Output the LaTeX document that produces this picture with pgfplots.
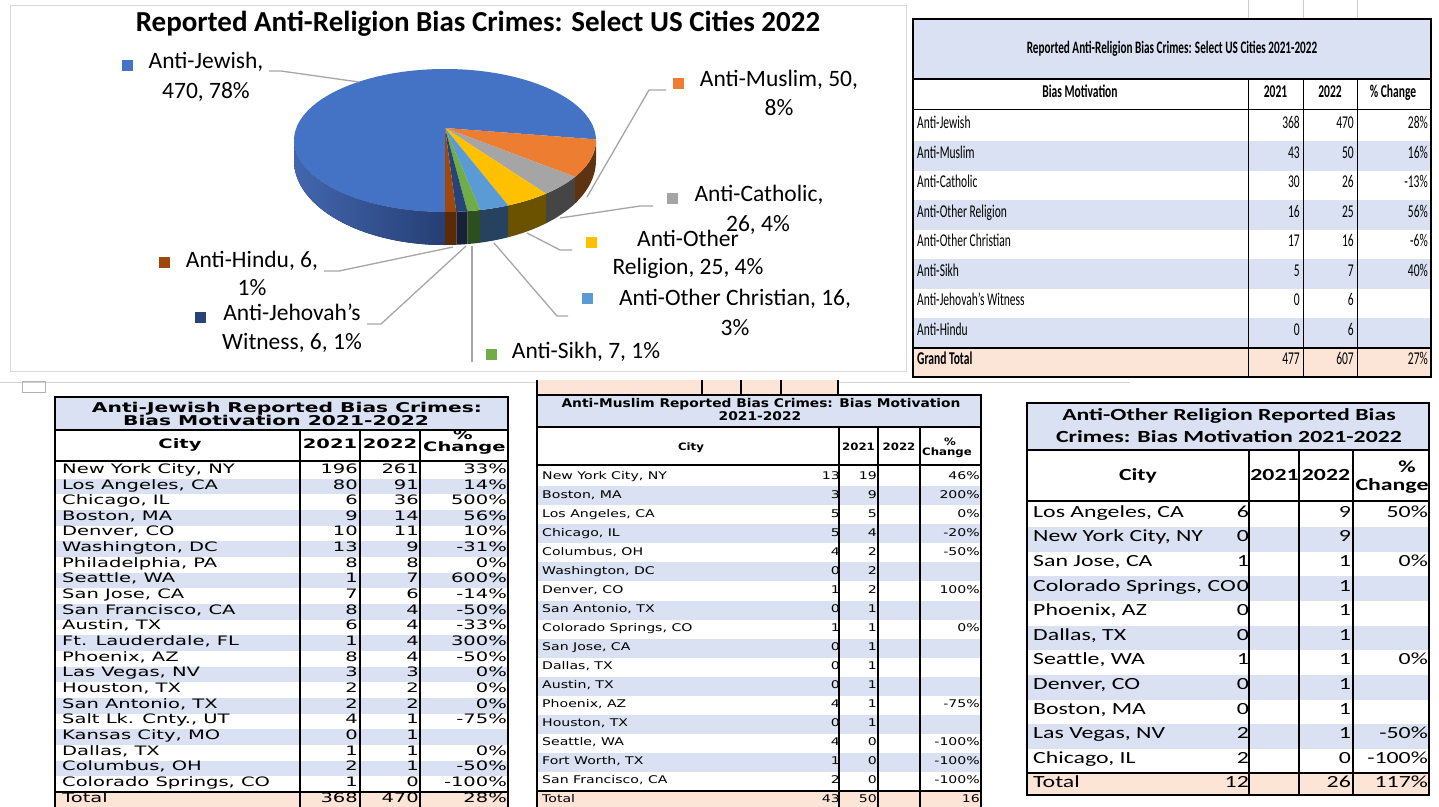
\documentclass[border=0pt]{standalone}
\usepackage{pgfplots}
\pgfplotsset{compat=1.18}
\usetikzlibrary{calc}
\usepackage{fontspec}
\setmainfont{Carlito}
\newfontfamily\calcond[FakeStretch=0.64]{Carlito}
\newfontfamily\calwide[FakeStretch=1.4]{Carlito}
\newfontfamily\dvwide[FakeStretch=1.5]{DejaVu Sans}
\newfontfamily\dvmid[FakeStretch=1.15]{DejaVu Sans}
\newfontfamily\dvmidr[FakeStretch=1.33]{DejaVu Sans}

\definecolor{jew}{HTML}{4472C4}
\definecolor{jewL}{HTML}{4266AE}
\definecolor{jewD}{HTML}{263F74}
\definecolor{mus}{HTML}{ED7D31}
\definecolor{musD}{HTML}{5E3311}
\definecolor{cat}{HTML}{A5A5A5}
\definecolor{catD}{HTML}{454545}
\definecolor{orl}{HTML}{FFC000}
\definecolor{orlD}{HTML}{6B5200}
\definecolor{och}{HTML}{5B9BD5}
\definecolor{ochD}{HTML}{27425E}
\definecolor{sik}{HTML}{70AD47}
\definecolor{sikD}{HTML}{2D4F20}
\definecolor{jeh}{HTML}{264478}
\definecolor{jehD}{HTML}{15223A}
\definecolor{hin}{HTML}{9E480E}
\definecolor{hinD}{HTML}{5B2A08}
\definecolor{lb}{HTML}{D9E1F2}
\definecolor{peach}{HTML}{FCE4D6}
\definecolor{ldr}{HTML}{A6A6A6}

% pie values (2022): Jewish 470, Muslim 50, Catholic 26, Other Religion 25,
% Other Christian 16, Sikh 7, Jehovah's Witness 6, Hindu 6 (sum 606)
\pgfmathsetmacro\aA{270}
\pgfmathsetmacro\aB{\aA-470/606*360}
\pgfmathsetmacro\aC{\aB-50/606*360}
\pgfmathsetmacro\aD{\aC-26/606*360}
\pgfmathsetmacro\aE{\aD-25/606*360}
\pgfmathsetmacro\aF{\aE-16/606*360}
\pgfmathsetmacro\aG{\aF-7/606*360}
\pgfmathsetmacro\aH{\aG-6/606*360}
\pgfmathsetmacro\aI{\aH-6/606*360}
% perspective view of the pie: true angle -> angle on the drawn ellipse
\newcommand\persp[2]{%
 \pgfmathsetmacro\tmpd{1+0.175*sin(#1)}%
 \pgfmathsetmacro\tmpx{148.7*cos(#1)/\tmpd/151}%
 \pgfmathsetmacro\tmpy{(69.3*sin(#1)/\tmpd+12.5)/71.5}%
 \pgfmathsetmacro#2{atan2(\tmpy,\tmpx)}}
\persp{\aB}{\pB}
\persp{\aC}{\pC}
\persp{\aD}{\pD}
\persp{\aE}{\pE}
\persp{\aF}{\pF}
\persp{\aG}{\pG}
\persp{\aH}{\pH}

\newcommand\topslice[3]{\fill[#1] (axis cs:445,128) -- ($(axis cs:445,140.5)+(#2:151pt and 71.5pt)$) arc[start angle=#2,end angle=#3,x radius=151pt,y radius=71.5pt] -- cycle;}
\newcommand\sideslice[3]{\fill[#1] ($(axis cs:445,140.5)+(#2:151pt and 71.5pt)$) arc[start angle=#2,end angle=#3,x radius=151pt,y radius=71.5pt] -- ($(axis cs:445,160.5)+(#3:151pt and 84.5pt)$) arc[start angle=#3,end angle=#2,x radius=151pt,y radius=84.5pt] -- cycle;}
\newcommand\pf{\fontsize{23.5}{28}\selectfont}
\newcommand\fTR{\fontsize{18}{20}\selectfont\calcond}
\newcommand\fBL{\fontsize{13}{15}\selectfont\dvwide}
\newcommand\fMD{\fontsize{10.6}{12}\selectfont\dvmidr}
\newcommand\fRT{\fontsize{17}{19}\selectfont\calwide}

\begin{document}
\begin{tikzpicture}
\begin{axis}[width=1439pt,height=806pt,scale only axis,xmin=0,xmax=1439,ymin=0,ymax=806,y dir=reverse,axis lines=none,clip=false,ticks=none]
\fill[white] (axis cs:0,0) rectangle (axis cs:1439,806);
\draw[gray!30,line width=1pt] (axis cs:10,5) rectangle (axis cs:906,371);
\node[font=\fontsize{29}{34}\selectfont\bfseries] at (axis cs:478,24) {Reported Anti-Religion Bias Crimes: Select US Cities 2022};
% side walls
\sideslice{left color=jewL,right color=jewD}{270}{180}
\sideslice{musD}{0}{\pC}
\sideslice{catD}{\pC}{\pD}
\sideslice{orlD}{\pD}{\pE}
\sideslice{ochD}{\pE}{\pF}
\sideslice{sikD}{\pF}{\pG}
\sideslice{jehD}{\pG}{\pH}
\sideslice{hinD}{\pH}{-90}
% top faces
\topslice{jew}{270}{\pB}
\topslice{mus}{\pB}{\pC}
\topslice{cat}{\pC}{\pD}
\topslice{orl}{\pD}{\pE}
\topslice{och}{\pE}{\pF}
\topslice{sik}{\pF}{\pG}
\topslice{jeh}{\pG}{\pH}
\topslice{hin}{\pH}{-90}
% leader lines
\draw[ldr,line width=1.3pt] (axis cs:269,71) -- (axis cs:281,71) -- (axis cs:359,82);
\draw[ldr,line width=1.3pt] (axis cs:666,90) -- (axis cs:649,90) -- (axis cs:587,197);
\draw[ldr,line width=1.3pt] (axis cs:653,206) -- (axis cs:640,206) -- (axis cs:560,218);
\draw[ldr,line width=1.3pt] (axis cs:572,250) -- (axis cs:560,250) -- (axis cs:527,233);
\draw[ldr,line width=1.3pt] (axis cs:568,316) -- (axis cs:557,316) -- (axis cs:494,243);
\draw[ldr,line width=1.3pt] (axis cs:472,362) -- (axis cs:472,246);
\draw[ldr,line width=1.3pt] (axis cs:367,324) -- (axis cs:381,324) -- (axis cs:466,246);
\draw[ldr,line width=1.3pt] (axis cs:324,271) -- (axis cs:339,271) -- (axis cs:453,247);
% legend keys
\fill[jew] (axis cs:122,60) rectangle (axis cs:133,71);
\fill[mus] (axis cs:673,78) rectangle (axis cs:684,89);
\fill[cat] (axis cs:667,193) rectangle (axis cs:678,204);
\fill[orl] (axis cs:586,237) rectangle (axis cs:597,248);
\fill[och] (axis cs:582,293) rectangle (axis cs:593,304);
\fill[sik] (axis cs:486,349) rectangle (axis cs:497,360);
\fill[jeh] (axis cs:195,312) rectangle (axis cs:206,323);
\fill[hin] (axis cs:159,257) rectangle (axis cs:170,268);
% labels
\node[font=\pf,anchor=mid] at (axis cs:206,66) {Anti-Jewish,};
\node[font=\pf,anchor=mid] at (axis cs:206,96) {470, 78\%};
\node[font=\pf,anchor=mid] at (axis cs:779,84) {Anti-Muslim, 50,};
\node[font=\pf,anchor=mid] at (axis cs:779,113) {8\%};
\node[font=\pf,anchor=mid] at (axis cs:759,199) {Anti-Catholic,};
\node[font=\pf,anchor=mid] at (axis cs:758,229) {26, 4\%};
\node[font=\pf,anchor=mid] at (axis cs:688,244) {Anti-Other};
\node[font=\pf,anchor=mid] at (axis cs:688,272) {Religion, 25, 4\%};
\node[font=\pf,anchor=mid] at (axis cs:735,303) {Anti-Other Christian, 16,};
\node[font=\pf,anchor=mid] at (axis cs:735,333) {3\%};
\node[font=\pf,anchor=mid] at (axis cs:586,356) {Anti-Sikh, 7, 1\%};
\node[font=\pf,anchor=mid] at (axis cs:292,318) {Anti-Jehovah’s};
\node[font=\pf,anchor=mid] at (axis cs:292,347) {Witness, 6, 1\%};
\node[font=\pf,anchor=mid] at (axis cs:252,265) {Anti-Hindu, 6,};
\node[font=\pf,anchor=mid] at (axis cs:252,293) {1\%};
\end{axis}

\begin{scope}[shift={(current axis.north west)},x=1pt,y=-1pt,every node/.style={inner sep=0pt}]
% ---------- top-right summary table ----------
\begin{scope}[font=\fTR]
\draw[gray!40,line width=0.8pt] (1248,0) -- (1248,19) (1303,0) -- (1303,19) (1357,0) -- (1357,19);
\fill[lb] (913,19) rectangle (1431,79);
\foreach \i in {1,3,5,7}{\fill[lb] (913,{111.75+29.5*\i}) rectangle (1431,{141.25+29.5*\i});}
\fill[peach] (913,347.75) rectangle (1431,377);
\draw[line width=1pt] (1248,79) -- (1248,377) (1303,79) -- (1303,377) (1357,79) -- (1357,377);
\draw[line width=2pt] (913,79) -- (1431,79);
\draw[line width=1pt] (913,110) -- (1431,110);
\draw[line width=2pt] (913,347.75) -- (1431,347.75);
\draw[line width=2.5pt] (913,19) rectangle (1431,377);
\node[font=\fontsize{17.5}{20}\selectfont\calcond\bfseries] at (1172,49) {Reported Anti-Religion Bias Crimes: Select US Cities 2021-2022};
\node[font=\fTR\bfseries,anchor=mid] at (1080,95) {Bias Motivation};
\node[font=\fTR\bfseries,anchor=mid] at (1275.5,95) {2021};
\node[font=\fTR\bfseries,anchor=mid] at (1330,95) {2022};
\node[font=\fTR\bfseries,anchor=mid] at (1393,95) {\% Change};
\foreach \n/\a/\b/\c [count=\i from 0] in {Anti-Jewish/368/470/28\%, Anti-Muslim/43/50/16\%, Anti-Catholic/30/26/-13\%, Anti-Other Religion/16/25/56\%, Anti-Other Christian/17/16/-6\%, Anti-Sikh/5/7/40\%, Anti-Jehovah’s Witness/0/6/, Anti-Hindu/0/6/}{
 \node[anchor=mid west] at (917,{126.5+29.5*\i}) {\n};
 \node[anchor=mid east] at (1300,{126.5+29.5*\i}) {\a};
 \node[anchor=mid east] at (1354,{126.5+29.5*\i}) {\b};
 \node[anchor=mid east] at (1428,{126.5+29.5*\i}) {\c};
}
\node[font=\fTR\bfseries,anchor=mid west] at (917,362.5) {Grand Total};
\node[anchor=mid east] at (1300,362.5) {477};
\node[anchor=mid east] at (1354,362.5) {607};
\node[anchor=mid east] at (1428,362.5) {27\%};
\end{scope}

% ---------- misc spreadsheet fragments ----------
\draw[gray!35,line width=1pt] (0,383) -- (1130,383);
\draw[gray!60,line width=0.8pt] (22,381) rectangle (45,392);
\fill[peach] (537,380) rectangle (838,395);
\draw[line width=1.5pt] (537,380) -- (537,395) (702,380) -- (702,395) (741,380) -- (741,395) (781,380) -- (781,395) (838,380) -- (838,395);

% ---------- Anti-Jewish city table ----------
\begin{scope}[font=\fBL]
\fill[lb] (55,397) rectangle (508,430);
\foreach \i in {1,3,...,19}{\fill[lb] (55,{471+15.65*\i-7.825}) rectangle (508,{471+15.65*\i+7.825});}
\fill[peach] (55,{471+15.65*21-7.825}) rectangle (508,810);
\draw[line width=2pt] (300,430) -- (300,810) (360,430) -- (360,810) (420,430) -- (420,810);
\draw[line width=2pt] (55,430) -- (508,430) (55,461) -- (508,461) (55,{471+15.65*21-7.825}) -- (508,{471+15.65*21-7.825});
\node[font=\fontsize{13.5}{15}\selectfont\dvwide\bfseries,anchor=mid] at (287,410) {Anti-Jewish Reported Bias Crimes:};
\node[font=\fontsize{13.5}{15}\selectfont\dvwide\bfseries,anchor=mid] at (276,423) {Bias Motivation 2021-2022};
\node[font=\fBL\bfseries,anchor=mid] at (180,446) {City};
\node[font=\fBL\bfseries,anchor=mid] at (330,446) {2021};
\node[font=\fBL\bfseries,anchor=mid] at (390,446) {2022};
\node[font=\fBL\bfseries,anchor=mid] at (463,437) {\%};
\node[font=\fBL\bfseries,anchor=mid west] at (423,449) {Change};
\begin{scope}
\clip (55,462) rectangle (299,810);
\foreach \n [count=\i from 0] in {{New York City, NY},{Los Angeles, CA},{Chicago, IL},{Boston, MA},{Denver, CO},{Washington, DC},{Philadelphia, PA},{Seattle, WA},{San Jose, CA},{San Francisco, CA},{Austin, TX},{Ft. Lauderdale, FL},{Phoenix, AZ},{Las Vegas, NV},{Houston, TX},{San Antonio, TX},{Salt Lk. Cnty., UT},{Kansas City, MO},{Dallas, TX},{Columbus, OH},{Colorado Springs, CO},{Total}}{
 \node[anchor=mid west] at (62,{471+15.65*\i}) {\n};}
\end{scope}
\foreach \a/\b/\c [count=\i from 0] in {196/261/33\%, 80/91/14\%, 6/36/500\%, 9/14/56\%, 10/11/10\%, 13/9/-31\%, 8/8/0\%, 1/7/600\%, 7/6/-14\%, 8/4/-50\%, 6/4/-33\%, 1/4/300\%, 8/4/-50\%, 3/3/0\%, 2/2/0\%, 2/2/0\%, 4/1/-75\%, 0/1/, 1/1/0\%, 2/1/-50\%, 1/0/-100\%, 368/470/28\%}{
 \node[anchor=mid east] at (358,{471+15.65*\i}) {\a};
 \node[anchor=mid east] at (419,{471+15.65*\i}) {\b};
 \node[anchor=mid east] at (507,{471+15.65*\i}) {\c};
}
\draw[line width=2.5pt] (55,810) -- (55,397) -- (508,397) -- (508,810);
\end{scope}

% ---------- Anti-Muslim city table ----------
\begin{scope}[font=\fMD]
\fill[lb] (537,395) rectangle (981,427);
\foreach \i in {1,3,...,15}{\fill[lb] (537,{477+19*\i-9.5}) rectangle (981,{477+19*\i+9.5});}
\fill[peach] (537,{477+19*17-9.5}) rectangle (981,810);
\draw[line width=2pt] (839,427) -- (839,810) (878,427) -- (878,810) (920,427) -- (920,810);
\draw[line width=2pt] (537,427) -- (981,427) (537,465) -- (981,465) (537,{477+19*17-9.5}) -- (981,{477+19*17-9.5});
\node[font=\fontsize{12}{14}\selectfont\dvmid\bfseries,anchor=mid] at (761,405) {Anti-Muslim Reported Bias Crimes: Bias Motivation};
\node[font=\fontsize{12}{14}\selectfont\dvmid\bfseries,anchor=mid] at (760,418) {2021-2022};
\node[font=\fontsize{10.2}{12}\selectfont\dvmid\bfseries,anchor=mid] at (691,448) {City};
\node[font=\fontsize{10.2}{12}\selectfont\dvmid\bfseries,anchor=mid] at (858.5,448) {2021};
\node[font=\fontsize{10.2}{12}\selectfont\dvmid\bfseries,anchor=mid] at (899,448) {2022};
\node[font=\fontsize{10.2}{12}\selectfont\dvmid\bfseries,anchor=mid] at (950,443) {\%};
\node[font=\fontsize{10.2}{12}\selectfont\dvmid\bfseries,anchor=mid west] at (922,453) {Change};
\begin{scope}
\clip (537,466) rectangle (838,810);
\foreach \n [count=\i from 0] in {{New York City, NY},{Boston, MA},{Los Angeles, CA},{Chicago, IL},{Columbus, OH},{Washington, DC},{Denver, CO},{San Antonio, TX},{Colorado Springs, CO},{San Jose, CA},{Dallas, TX},{Austin, TX},{Phoenix, AZ},{Houston, TX},{Seattle, WA},{Fort Worth, TX},{San Francisco, CA},{Total}}{
 \node[anchor=mid west] at (542,{477+19*\i}) {\n};}
\end{scope}
\foreach \a/\b/\c [count=\i from 0] in {13/19/46\%, 3/9/200\%, 5/5/0\%, 5/4/-20\%, 4/2/-50\%, 0/2/, 1/2/100\%, 0/1/, 1/1/0\%, 0/1/, 0/1/, 0/1/, 4/1/-75\%, 0/1/, 4/0/-100\%, 1/0/-100\%, 2/0/-100\%, 43/50/16}{
 \node[anchor=mid east] at (840,{477+19*\i}) {\a};
 \node[anchor=mid east] at (877,{477+19*\i}) {\b};
 \node[anchor=mid east] at (980,{477+19*\i}) {\c};
}
\draw[line width=2.5pt] (537,810) -- (537,395) -- (981,395) -- (981,810);
\end{scope}

% ---------- Anti-Other Religion city table ----------
\begin{scope}[font=\fRT]
\fill[lb] (1027,403) rectangle (1429,450);
\foreach \i in {1,3,...,9}{\fill[lb] (1027,{515+24.6*\i-12.3}) rectangle (1429,{515+24.6*\i+12.3});}
\fill[peach] (1027,{515+24.6*11-12.3}) rectangle (1429,795);
\draw[line width=2pt] (1249,450) -- (1249,795) (1299,450) -- (1299,795) (1353,450) -- (1353,795);
\draw[line width=2pt] (1027,450) -- (1429,450) (1027,501) -- (1429,501) (1027,{515+24.6*11-12.3}) -- (1429,{515+24.6*11-12.3});
\node[font=\fRT\bfseries,anchor=mid] at (1229,418) {Anti-Other Religion Reported Bias};
\node[font=\fRT\bfseries,anchor=mid] at (1229,440) {Crimes: Bias Motivation 2021-2022};
\node[font=\fRT\bfseries,anchor=mid] at (1138,478) {City};
\node[font=\fRT\bfseries,anchor=mid] at (1274.5,478) {2021};
\node[font=\fRT\bfseries,anchor=mid] at (1326,478) {2022};
\node[font=\fRT\bfseries,anchor=mid] at (1407,470) {\%};
\node[font=\fRT\bfseries,anchor=mid] at (1392,488) {Change};
\foreach \n/\a/\b/\c [count=\i from 0] in {{Los Angeles, CA}/6/9/50\%, {New York City, NY}/0/9/, {San Jose, CA}/1/1/0\%, {Colorado Springs, CO}/0/1/, {Phoenix, AZ}/0/1/, {Dallas, TX}/0/1/, {Seattle, WA}/1/1/0\%, {Denver, CO}/0/1/, {Boston, MA}/0/1/, {Las Vegas, NV}/2/1/-50\%, {Chicago, IL}/2/0/-100\%, {Total}/12/26/117\%}{
 \node[anchor=mid west] at (1033,{515+24.6*\i}) {\n};
 \node[anchor=mid east] at (1249,{515+24.6*\i}) {\a};
 \node[anchor=mid east] at (1351,{515+24.6*\i}) {\b};
 \node[anchor=mid east] at (1428,{515+24.6*\i}) {\c};
}
\draw[line width=2.5pt] (1027,403) rectangle (1429,795);
\end{scope}
\end{scope}
\pgfresetboundingbox
\path[use as bounding box] (current axis.south west) rectangle (current axis.north east);
\end{tikzpicture}
\end{document}
